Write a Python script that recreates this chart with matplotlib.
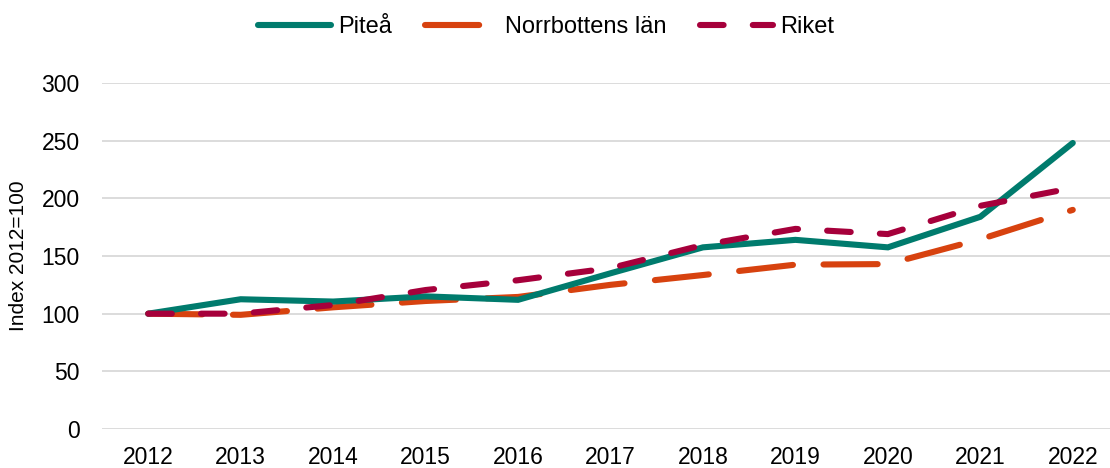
import matplotlib.pyplot as plt

# Data
years = ['2012', '2013', '2014', '2015', '2016', '2017', '2018', '2019', '2020', '2021', '2022']
pitea = [100, 112.5, 110.5, 115, 112, 135, 157.5, 164, 157.5, 184, 248]
norrbotten = [100, 99, 105.5, 111, 114.5, 125, 133.5, 142.5, 143, 164.5, 190]
riket = [100, 100, 107.5, 120.5, 129, 139.5, 159.5, 173.5, 169, 193.5, 209]

plt.rcParams['font.family'] = ['Liberation Sans', 'DejaVu Sans']
plt.rcParams['lines.scale_dashes'] = False

fig = plt.figure(figsize=(11.1, 4.68), dpi=100)
ax = fig.add_axes([102 / 1110, 1 - 429 / 468, (1119 - 102) / 1110, (429 - 83) / 468])

x = range(len(years))
ax.plot(x, pitea, color='#007B6D', lw=4.4, solid_capstyle='round', solid_joinstyle='miter', label='Piteå', zorder=3)
ax.plot(x, norrbotten, color='#D7420F', lw=4.4, dashes=(39, 22), dash_capstyle='round', label='Norrbottens län', zorder=2)
ax.plot(x, riket, color='#A6003B', lw=4.4, dashes=(17, 21), dash_capstyle='round', label='Riket', zorder=4)

ax.set_xlim(-0.5, len(years) - 0.5)
ax.set_ylim(0, 300)
ax.set_yticks(range(0, 301, 50))
ax.set_xticks(list(x))
ax.set_xticklabels(years)
ax.tick_params(axis='both', length=0, labelsize=16.5, colors='#000000')
ax.tick_params(axis='x', pad=12)
ax.tick_params(axis='y', pad=16)
ax.grid(axis='y', color='#D9D9D9', lw=1.3)
ax.set_axisbelow(True)
for s in ax.spines.values():
    s.set_visible(False)
ax.set_ylabel('Index 2012=100', fontsize=15)
ax.yaxis.set_label_coords((28 - 102) / 1017, 0.5)

fig.legend(loc='center', bbox_to_anchor=(0.5 - 9 / 1110, 1 - 27 / 468), ncol=3, frameon=False,
           fontsize=17, handlelength=3.1, handletextpad=0.3, columnspacing=1.4)

fig.savefig('out.png', dpi=100)
